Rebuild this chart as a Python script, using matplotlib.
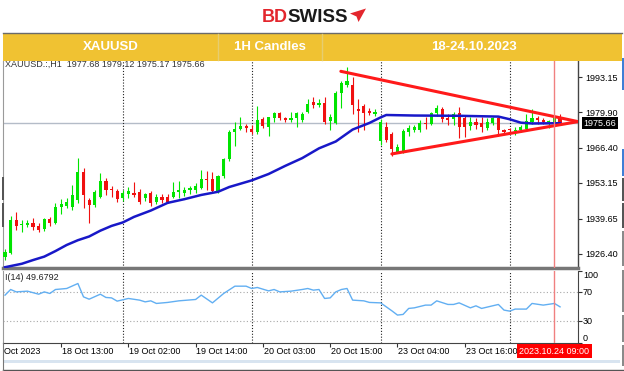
import matplotlib
matplotlib.use("Agg")
import matplotlib.pyplot as plt
import matplotlib.transforms as mtransforms
from matplotlib.patches import Rectangle, Polygon
from matplotlib.lines import Line2D
import numpy as np

W, H = 624, 371

# XAUUSD H1 candles, 18 Oct 03:00 -> 24 Oct 10:00 (23 bars per trading day)
opens = [1925.0, 1926.8, 1939.1, 1937.2, 1937.3, 1938.0, 1937.0, 1935.6, 1939.5, 1937.9,
         1944.0, 1944.5, 1944.2, 1946.7, 1957.1, 1946.7, 1944.8, 1948.0, 1953.9, 1950.8,
         1950.2, 1947.3, 1948.8, 1949.3, 1949.8, 1947.3, 1949.3, 1946.0, 1947.7, 1948.0,
         1948.0, 1949.9, 1949.2, 1950.3, 1950.5, 1951.3, 1954.6, 1954.6, 1950.0, 1955.9,
         1962.2, 1972.5, 1973.4, 1974.5, 1973.5, 1972.3, 1977.2, 1974.4, 1977.5, 1979.6,
         1977.5, 1976.9, 1977.5, 1976.8, 1980.0, 1983.6, 1982.6, 1983.2, 1976.6, 1975.9,
         1987.0, 1990.1, 1990.1, 1980.9, 1982.3, 1980.4, 1979.2, 1969.0, 1974.4, 1971.6,
         1965.0, 1965.0, 1972.5, 1973.3, 1973.1, 1975.7, 1975.4, 1979.4, 1981.0, 1977.5,
         1977.2, 1979.4, 1977.5, 1974.6, 1976.3, 1975.7, 1974.0, 1975.7, 1977.5, 1973.1,
         1973.5, 1972.6, 1973.1, 1973.5, 1976.3, 1977.8, 1976.9, 1976.0, 1976.3, 1977.68]
closes = [1926.9, 1939.0, 1937.0, 1937.8, 1938.0, 1936.6, 1935.4, 1939.4, 1937.9, 1944.2,
          1945.2, 1945.8, 1948.6, 1957.1, 1948.6, 1944.8, 1949.8, 1953.9, 1950.5, 1950.3,
          1947.0, 1949.5, 1950.0, 1948.4, 1946.0, 1949.0, 1945.5, 1948.0, 1946.7, 1946.0,
          1949.8, 1950.4, 1950.5, 1951.2, 1952.0, 1954.6, 1954.2, 1950.1, 1955.9, 1962.2,
          1972.5, 1973.5, 1974.5, 1974.0, 1972.5, 1976.9, 1974.8, 1977.9, 1979.6, 1977.5,
          1976.9, 1977.6, 1979.4, 1979.2, 1982.8, 1982.4, 1983.3, 1976.3, 1978.2, 1987.2,
          1990.7, 1991.8, 1982.6, 1980.5, 1979.7, 1979.4, 1980.0, 1976.3, 1969.4, 1965.9,
          1966.6, 1972.8, 1973.8, 1974.3, 1975.7, 1975.3, 1979.4, 1981.3, 1977.2, 1976.9,
          1979.0, 1974.4, 1974.4, 1976.2, 1974.9, 1974.1, 1976.3, 1977.5, 1973.1, 1972.3,
          1973.0, 1973.3, 1974.4, 1976.5, 1977.8, 1977.0, 1976.0, 1976.7, 1977.8, 1975.66]
highs = [1928.0, 1940.5, 1942.3, 1939.0, 1939.0, 1940.0, 1938.0, 1940.0, 1940.2, 1945.5,
         1947.0, 1947.5, 1952.5, 1962.7, 1958.6, 1947.5, 1950.5, 1957.0, 1955.0, 1952.0,
         1951.0, 1950.5, 1951.5, 1953.5, 1950.8, 1949.5, 1950.0, 1948.8, 1949.0, 1949.0,
         1953.5, 1954.0, 1951.5, 1952.0, 1953.0, 1958.0, 1957.5, 1957.4, 1956.3, 1962.5,
         1973.0, 1976.0, 1978.0, 1975.3, 1975.0, 1982.2, 1978.0, 1978.2, 1980.0, 1980.0,
         1978.2, 1980.0, 1980.0, 1980.0, 1985.0, 1985.5, 1985.0, 1985.5, 1979.0, 1988.0,
         1991.5, 1997.0, 1993.0, 1984.8, 1983.0, 1981.5, 1981.0, 1977.2, 1976.0, 1972.5,
         1968.0, 1973.5, 1975.0, 1975.0, 1977.0, 1978.0, 1980.0, 1982.5, 1982.0, 1979.0,
         1980.0, 1981.7, 1978.5, 1978.0, 1977.5, 1978.0, 1977.5, 1978.0, 1978.0, 1973.6,
         1974.0, 1974.2, 1975.0, 1979.0, 1981.0, 1978.5, 1977.5, 1977.0, 1978.8, 1979.12]
lows = [1924.0, 1926.3, 1935.4, 1934.5, 1936.5, 1935.5, 1934.5, 1935.0, 1936.8, 1937.5,
        1941.5, 1943.5, 1943.0, 1945.5, 1943.5, 1937.9, 1944.0, 1947.3, 1948.5, 1948.0,
        1946.0, 1946.5, 1947.5, 1947.8, 1945.0, 1946.5, 1944.5, 1945.0, 1945.5, 1945.5,
        1947.5, 1947.5, 1948.3, 1949.0, 1949.5, 1950.8, 1950.5, 1949.5, 1949.5, 1955.0,
        1961.5, 1967.0, 1973.0, 1972.5, 1971.5, 1971.5, 1974.0, 1971.0, 1976.0, 1977.0,
        1976.0, 1976.0, 1974.4, 1976.3, 1979.5, 1981.5, 1982.0, 1975.5, 1973.1, 1975.5,
        1981.5, 1989.5, 1979.0, 1972.2, 1973.0, 1978.8, 1978.5, 1967.5, 1968.5, 1963.5,
        1964.3, 1964.5, 1971.0, 1972.5, 1972.5, 1973.5, 1975.0, 1978.5, 1976.0, 1975.0,
        1975.0, 1970.0, 1970.5, 1973.0, 1973.5, 1972.5, 1973.0, 1975.0, 1971.0, 1971.5,
        1972.0, 1971.2, 1972.5, 1973.0, 1975.5, 1975.5, 1975.3, 1974.0, 1975.8, 1975.17]

# blue moving average, read at these bars
ma_idx = [0, 3, 5, 7, 9, 11, 13, 15, 17, 19, 21, 23, 26, 29, 32, 35, 38, 40, 44, 47,
          50, 53, 56, 59, 62, 65, 67, 68, 73, 81, 88, 90, 92, 94, 99]
ma_val = [1921.3, 1922.6, 1924.0, 1925.3, 1927.4, 1929.7, 1931.5, 1932.9, 1935.1, 1936.9,
          1938.2, 1940.3, 1942.7, 1945.6, 1947.0, 1948.6, 1949.8, 1951.6, 1954.1, 1956.5,
          1959.6, 1962.5, 1966.2, 1968.8, 1973.3, 1975.8, 1977.9, 1978.8, 1978.6, 1978.5,
          1978.2, 1977.2, 1975.9, 1975.6, 1975.7]

# triangle drawn on the chart
tri_up_x = [59.9, 102.2]
tri_up_y = [1995.3, 1976.3]
tri_lo_x = [69.0, 102.2]
tri_lo_y = [1964.1, 1976.3]

last_price = 1975.66
price_ticks = [1993.15, 1979.90, 1966.40, 1953.15, 1939.65, 1926.40]

# oscillator (14)
ind_idx = [0, 1, 2, 4, 6, 7, 8, 9, 11, 13, 14, 15, 17, 18, 19, 20, 22, 24, 25, 26,
           27, 29, 31, 34, 35, 37, 39, 41, 43, 44, 45, 47, 48, 49, 51, 53, 54, 55, 56, 57,
           58, 59, 60, 61, 62, 64, 65, 67, 68, 69, 70, 71, 72, 73, 75, 76, 77, 79, 80, 81,
           83, 84, 85, 88, 89, 90, 91, 93, 94, 96, 98, 99]
ind_val = [65.9, 73.7, 70.4, 71.4, 67.2, 70.4, 68.2, 73.7, 75.1, 82.0, 63.5, 60.3, 67.2, 62.7,
           62.1, 57.6, 61.3, 59.0, 56.6, 58.0, 54.4, 55.8, 58.0, 59.9, 65.9, 55.2, 68.2, 78.3,
           78.3, 75.1, 76.5, 71.8, 73.7, 70.4, 71.4, 73.7, 75.1, 72.8, 73.7, 61.3, 62.1, 70.4,
           73.7, 75.1, 59.0, 58.0, 55.8, 55.2, 49.7, 44.2, 38.3, 39.2, 47.5, 48.3, 52.1, 52.1,
           58.0, 53.0, 53.0, 55.2, 48.3, 51.1, 47.5, 53.0, 45.2, 43.8, 46.6, 46.6, 54.4, 52.1,
           54.4, 49.68]
ind_levels = [100, 70, 30, 0]

day_idx = [21, 44, 67, 90]
time_idx = [10, 22, 34, 46, 58, 70, 82]
time_lbl = ["18 Oct 13:00", "19 Oct 02:00", "19 Oct 14:00", "20 Oct 03:00",
            "20 Oct 15:00", "23 Oct 04:00", "23 Oct 16:00"]
cur_idx = 98
cur_lbl = "2023.10.24 09:00"

GREEN = "#00e400"
RED = "#f01010"
FONT = "Liberation Sans"


def fx(px):
    return px / W


def fy(py):
    return 1 - py / H


fig = plt.figure(figsize=(W / 100, H / 100), dpi=100)
fig.patch.set_facecolor("white")

ax = fig.add_axes([fx(3), fy(268), fx(578) - fx(3), fy(61) - fy(268)])
ax2 = fig.add_axes([fx(3), fy(342.75), fx(578) - fx(3), fy(270.5) - fy(342.75)])
xlim = (-0.36, 102.2)

# ---- main price panel
o, c, h, l = map(np.array, (opens, closes, highs, lows))
idx = np.arange(len(o))
cols = np.where(c >= o, GREEN, RED)
ax.vlines(idx, l, h, colors=cols, lw=0.8, zorder=3)
ax.bar(idx, np.maximum(np.abs(c - o), 0.35), bottom=np.minimum(o, c), width=0.56,
       color=cols, linewidth=0, zorder=3)
ax.plot(ma_idx, ma_val, color="#1818c8", lw=1.8, zorder=4)
ax.plot(tri_up_x, tri_up_y, color="#ff1a1a", lw=2.2, zorder=5, solid_capstyle="round")
ax.plot(tri_lo_x, tri_lo_y, color="#ff1a1a", lw=2.2, zorder=5, solid_capstyle="round")
ax.axhline(last_price, color="#b4bcc8", lw=1, zorder=2)

ax.set_xlim(*xlim)
ax.set_ylim(1921.0, 1999.2)
ax.set_xticks([])
ax.yaxis.tick_right()
ax.set_yticks(price_ticks)
ax.set_yticklabels([f"{v:.2f}" for v in price_ticks], fontsize=6.5, family=FONT)
ax.tick_params(axis="y", length=3, width=0.8, pad=2, colors="#333333", labelcolor="black")
ax.spines["top"].set_visible(False)
ax.spines["left"].set_color("#9a9a9a")
ax.spines["left"].set_linewidth(0.8)
ax.spines["right"].set_color("#444444")
ax.spines["right"].set_linewidth(1)
ax.spines["bottom"].set_color("#777777")
ax.spines["bottom"].set_linewidth(2.5)

ax.annotate(f"{last_price:.2f}", xy=(1.0, last_price),
            xycoords=("axes fraction", "data"), xytext=(4, 0), textcoords="offset points",
            ha="left", va="center", fontsize=6.5, family=FONT, color="white",
            bbox=dict(boxstyle="square,pad=0.15", fc="black", ec="none"), annotation_clip=False)

ax.text(fx(5), fy(64.5), "XAUUSD.:,H1  1977.68 1979.12 1975.17 1975.66",
        transform=fig.transFigure, fontsize=6.5, family=FONT, color="#333333",
        ha="left", va="center")

# ---- indicator panel
ax2.plot(ind_idx, ind_val, color="#62aff2", lw=1, zorder=3)
for lv in (70, 30):
    ax2.axhline(lv, color="#a8a8a8", lw=0.8, ls=(0, (1, 2)), zorder=1)
ax2.set_xlim(*xlim)
ax2.set_ylim(0, 100)
ax2.yaxis.tick_right()
ax2.set_yticks(ind_levels)
ax2.set_yticklabels([""] * len(ind_levels))
ax2.tick_params(axis="y", length=3, width=0.8, colors="#333333")
ax2.set_xticks(time_idx)
ax2.set_xticklabels([""] * len(time_idx))
ax2.tick_params(axis="x", length=3, width=0.8, colors="#333333", direction="out")
ax2.spines["top"].set_visible(False)
ax2.spines["left"].set_color("#9a9a9a")
ax2.spines["left"].set_linewidth(0.8)
ax2.spines["right"].set_color("#444444")
ax2.spines["bottom"].set_color("#444444")

ytr = mtransforms.blended_transform_factory(ax2.transAxes, ax2.transData)
for lv in ind_levels:
    va = "top" if lv == 100 else ("bottom" if lv == 0 else "center")
    ax2.text(1.0 + 5 / 575, lv, str(lv), transform=ytr, fontsize=6.5, family=FONT,
             ha="left", va=va, clip_on=False)

ax2.text(fx(5), fy(277.5), "I(14) 49.6792", transform=fig.transFigure, fontsize=6.5,
         family=FONT, color="#222222", ha="left", va="center")

# separators and current bar line across both panels
for a in (ax, ax2):
    for d in day_idx:
        a.axvline(d, color="#222222", lw=0.8, ls=(0, (1, 1.6)), zorder=2)
    a.axvline(cur_idx, color="#f08080", lw=1, zorder=6)

# time axis labels
xtr = mtransforms.blended_transform_factory(ax2.transData, fig.transFigure)
ax2.text(-0.2, fy(351), "Oct 2023", transform=xtr, fontsize=6.5, family=FONT,
         ha="left", va="center", clip_on=False)
for ti, tl in zip(time_idx, time_lbl):
    ax2.text(ti + 0.15, fy(351), tl, transform=xtr, fontsize=6.5, family=FONT,
             ha="left", va="center", clip_on=False)
ax2.text(cur_idx, fy(351), cur_lbl, transform=xtr, fontsize=6.5, family=FONT,
         color="white", ha="center", va="center", clip_on=False,
         bbox=dict(boxstyle="square,pad=0.25", fc="#ff0000", ec="none"))

# ---- frame pieces around the chart (screenshot borders)
def frect(x0, y0, x1, y1, color, z=1):
    fig.add_artist(Rectangle((fx(x0), fy(y1)), fx(x1) - fx(x0), fy(y0) - fy(y1),
                             transform=fig.transFigure, facecolor=color,
                             edgecolor="none", zorder=z))


def fline(x0, y0, x1, y1, color, lw=1.0):
    fig.add_artist(Line2D([fx(x0), fx(x1)], [fy(y0), fy(y1)], transform=fig.transFigure,
                          color=color, lw=lw, zorder=2))


frect(3, 360, 620, 363, "#d8e4f0")
fline(3, 369.5, 624, 369.5, "#555555", 1.0)
fline(3, 343, 3, 370, "#777777", 0.8)
for y0, y1, col in [(58, 90, "#3f7fd6"), (149, 176, "#3f7fd6"), (178, 201, "#555555"),
                    (203, 228, "#555555"), (231, 266, "#8a8a8a"), (270, 312, "#8a8a8a"),
                    (315, 342, "#8a8a8a"), (345, 366, "#8a8a8a")]:
    frect(621.5, y0, 624, y1, col)
for y0, y1 in [(177, 200), (203, 227)]:
    frect(2, y0, 4, y1, "#555555")

# ---- yellow header bar
frect(3, 33, 622, 60.5, "#f0c232")
fline(3, 33.3, 622, 33.3, "#6a6a6a", 1.0)
for xd in (218, 322):
    fline(xd, 34, xd, 60, "#e6cd70", 1.0)
for xc, txt in [(111, "XAUUSD"), (270, "1H Candles"), (474, "18-24.10.2023")]:
    fig.text(fx(xc), fy(47.5), txt, color="white", fontsize=9.5, weight="bold",
             family=FONT, ha="center", va="center", zorder=3)

# ---- logo
fig.text(fx(262), fy(21.8), "BD", color="#e3262d", fontsize=13, weight="bold",
         family=FONT, ha="left", va="baseline")
fig.text(fx(287), fy(21.8), "SWISS", color="#1a1a1a", fontsize=13.5, weight="bold",
         family=FONT, ha="left", va="baseline")
plane = [(350, 13.5), (366, 8.5), (358.5, 22), (356.5, 16.5)]
fig.add_artist(Polygon([(fx(px), fy(py)) for px, py in plane], closed=True,
                       transform=fig.transFigure, facecolor="#e3262d", edgecolor="none"))

fig.savefig("out.png", dpi=100)
